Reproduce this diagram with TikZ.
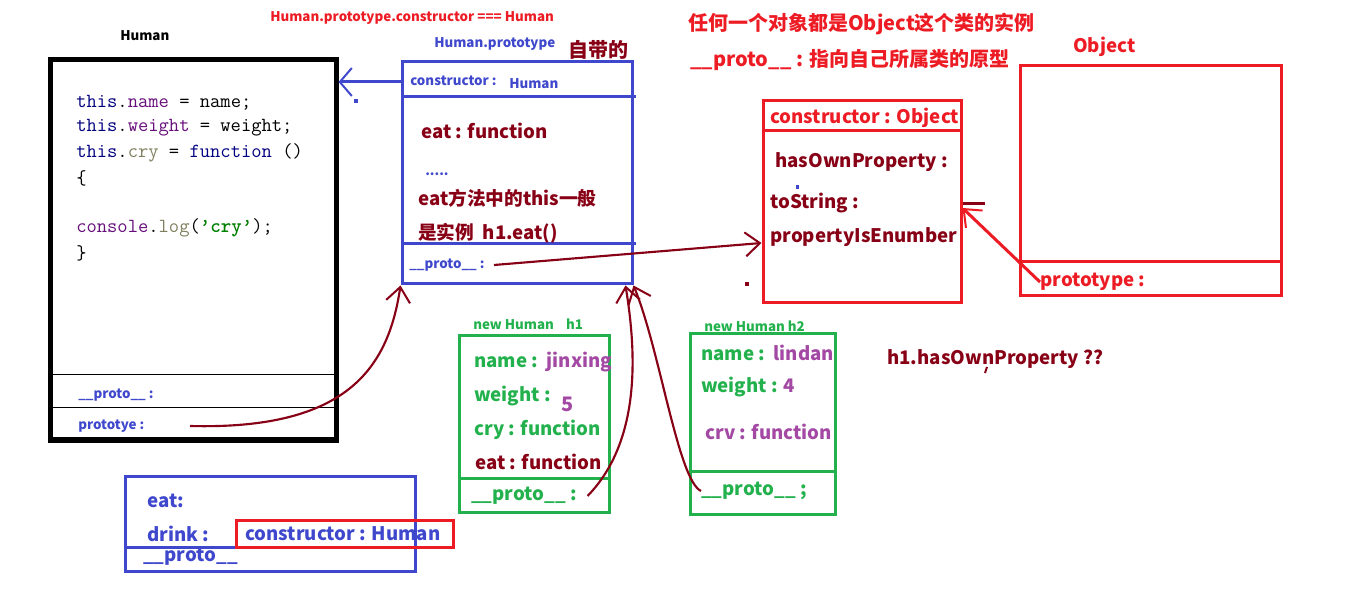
\documentclass[tikz,border=0pt]{standalone}
\usepackage{fontspec}
\setmainfont{Noto Sans CJK SC}
\usetikzlibrary{arrows.meta,fit}
\definecolor{pblue}{RGB}{63,72,204}
\definecolor{pred}{RGB}{237,28,36}
\definecolor{pgreen}{RGB}{34,177,76}
\definecolor{pdark}{RGB}{136,0,21}
\definecolor{ppurple}{RGB}{163,73,164}
\definecolor{knavy}{RGB}{0,0,128}
\definecolor{kpurple}{RGB}{102,14,122}
\definecolor{kolive}{RGB}{128,128,96}
\definecolor{kgreen}{RGB}{0,128,0}
\begin{document}
\begin{tikzpicture}[
          x=0.75pt, y=-0.75pt,
          box/.style={draw, inner sep=0pt, line width=2.25pt},
          small/.style={anchor=west, inner sep=0pt, font=\bfseries\fontsize{10}{12}\selectfont},
          big/.style={anchor=west, inner sep=0pt, font=\bfseries\fontsize{14}{16}\selectfont},
          huge/.style={anchor=west, inner sep=0pt, font=\bfseries\fontsize{15}{17}\selectfont},
          code/.style={anchor=west, inner sep=0pt, font=\ttfamily\fontsize{15}{17}\selectfont},
          barb/.style={-{Straight Barb[length=11pt,width=18pt,line width=1.5pt]}},
          link/.style={pdark, line width=1.6pt, barb}
        ]
        \useasboundingbox (0,0) rectangle (1360,591);
        % constructor Human
        \node[small] (humantitle) at (120,36) {Human};
        \node[box, line width=3.75pt, fit={(50,60) (336,440)}] (humanbox) {};
        \draw[line width=0.75pt] (52,375) -- (334,375);
        \draw[line width=0.75pt] (52,408) -- (334,408);
        \node[code] (c1) at (76,103) {{\color{knavy}this}.{\color{kpurple}name} = name;};
        \node[code] (c2) at (76,128) {{\color{knavy}this}.{\color{kpurple}weight} = weight;};
        \node[code] (c3) at (76,153) {{\color{knavy}this}.{\color{kolive}cry} = {\color{knavy}function} ()};
        \node[code] (c4) at (76,178) {\{};
        \node[code] (c5) at (76,228) {{\color{kpurple}console}.{\color{kolive}log}({\bfseries\color{kgreen}’cry’});};
        \node[code] (c6) at (76,253) {\}};
        \node[small, pblue] (hproto) at (78,395) {\_\_proto\_\_ :};
        \node[small, pblue] (hprotot) at (78,426) {prototye :};

        % Human.prototype
        \node[small, pred] (eqnote) at (270,18) {Human.prototype.constructor === Human};
        \node[small, pblue] (prototitle) at (434,44) {Human.prototype};
        \node[huge, pdark] (builtin) at (568,50) {自带的};
        \node[box, pblue, fit={(402,62) (632,284)}] (protobox) {};
        \draw[pblue, line width=2.25pt] (402,97) -- (636,97);
        \draw[pblue, line width=2.25pt] (402,244) -- (636,244);
        \node[small, pblue] (pctor) at (410,81) {constructor :};
        \node[small, pblue] (pctorval) at (509,84) {Human};
        \node[big, pdark] (peat) at (421,131) {eat : function};
        \node[small, pblue] (pdots) at (425,174) {.....};
        \node[big, pdark] (pnote1) at (418,198) {eat方法中的this一般};
        \node[big, pdark] (pnote2) at (418,233) {是实例\ \ h1.eat()};
        \node[small, pblue] (pproto) at (409,265) {\_\_proto\_\_ :};
        \fill[pblue] (354,99) rectangle (358,103);

        % Object.prototype
        \node[huge, pred] (note1) at (688,24) {任何一个对象都是Object这个类的实例};
        \node[huge, pred] (note2) at (690,60) {\_\_proto\_\_ : 指向自己所属类的原型};
        \node[box, pred, fit={(763,101) (961,303)}] (objproto) {};
        \draw[pred, line width=2.25pt] (763,131) -- (961,131);
        \node[big, pred] (octor) at (770,118) {constructor : Object};
        \node[big, pdark] (ohas) at (775,162) {hasOwnProperty :};
        \node[big, pdark] (ostr) at (770,203) {toString :};
        \node[big, pdark] (oenum) at (770,237) {propertyIsEnumber};
        \fill[pblue] (796,185) rectangle (799,189);
        \fill[pdark] (745,282) rectangle (749,286);

        % Object
        \node[big, pred] (objtitle) at (1073,47) {Object};
        \node[box, pred, fit={(1020,66) (1281,296)}] (objbox) {};
        \draw[pred, line width=2.25pt] (1020,262) -- (1281,262);
        \node[big, pred] (oproto) at (1040,282) {prototype :};

        % h1
        \node[small, pgreen] (h1title) at (473,324) {new Human\ \ \ \ h1};
        \node[box, pgreen, fit={(459,336) (609,512)}] (h1box) {};
        \draw[pgreen, line width=2.25pt] (459,478) -- (609,478);
        \node[big, pgreen] (h1name) at (474,362) {name :\ \ {\color{ppurple}jinxing}};
        \node[big, pgreen] (h1weight) at (474,396) {weight :};
        \node[huge, ppurple] (h1five) at (561,404) {5};
        \node[big, pgreen] (h1cry) at (474,430) {cry : function};
        \node[big, pdark] (h1eat) at (475,462) {eat : function};
        \node[big, pgreen] (h1proto) at (471,496) {\_\_proto\_\_ :};

        % h2
        \node[small, pgreen] (h2title) at (704,326) {new Human h2};
        \node[box, pgreen, fit={(690,334) (835,514)}] (h2box) {};
        \draw[pgreen, line width=2.25pt] (690,471) -- (835,471);
        \node[big, pgreen] (h2name) at (701,353) {name :\ \ {\color{ppurple}lindan}};
        \node[big, pgreen] (h2weight) at (701,387) {weight : {\color{ppurple}4}};
        \node[big, ppurple] (h2cry) at (705,432) {crv : function};
        \node[big, pgreen] (h2proto) at (701,491) {\_\_proto\_\_ ;};

        \node[big, pdark] (question) at (887,359) {h1.hasOwnProperty ??};
        \draw[pdark, line width=1.5pt] (987,367) -- (985,373);

        % plain object
        \node[box, pblue, fit={(125,476) (415,571)}] (lowbox) {};
        \draw[pblue, line width=2.25pt] (125,547) -- (415,547);
        \node[big, pblue] (leat) at (147,501) {eat:};
        \node[big, pblue] (ldrink) at (147,534) {drink :};
        \node[big, pblue] (lproto) at (143,557) {\_\_proto\_\_};
        \node[box, pred, fit={(236,520) (453,547)}] (ctorbox) {};
        \node[big, pblue] (lctor) at (245,534) {constructor : Human};

        % links
        \draw[pblue, line width=2.25pt, -{Straight Barb[length=9pt,width=21pt,line width=1.5pt]}]
          (protobox.west |- 0,82) -- (humanbox.east |- 0,82);
        \draw[link] (pproto.east -| 494,0) -- (objproto.west |- 0,243);
        \draw[pred, line width=2.25pt, barb] (oproto.west) -- (objproto.east |- 0,208);
        \draw[pdark, line width=2.25pt] (objproto.east |- 0,204) -- ++(22,0);
        \draw[link] (hprotot.east -| 190,0) .. controls (345,430) and (388,370) .. (protobox.south west);
        \draw[link] ([xshift=8]h1proto.east) .. controls (642,440) and (636,350) .. ([xshift=-6]protobox.south east);
        \draw[link] (h2proto.west) .. controls (678,480) and (660,350) .. (protobox.south east);
        \end{tikzpicture}
\end{document}
